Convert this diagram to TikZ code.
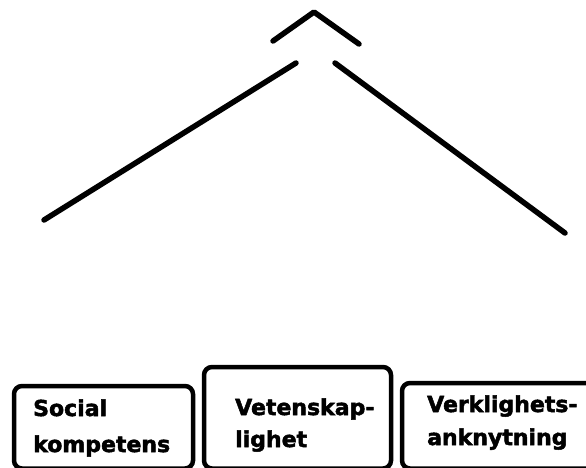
\documentclass[tikz,border=0pt]{standalone}
\usepackage{fontspec}
\setmainfont{DejaVu Sans}
\newfontfamily\heavy[FakeBold=2.2]{DejaVu Sans Bold}
\tikzset{
  stroke/.style={line width=5.5pt, line cap=round, line join=round},
  boxshape/.style={line width=4.5pt, rounded corners=8pt},
  lbl/.style={anchor=base west, inner sep=0pt, font=\heavy\fontsize{22}{26}\selectfont}
}
\begin{document}
\begin{tikzpicture}[x=1pt,y=-1pt]
\useasboundingbox (0,0) rectangle (586,467);
\fill[white] (0,0) rectangle (586,467);
% caret
\coordinate (cl) at (273,41);
\coordinate (ct) at (314,12);
\coordinate (cr) at (359,44);
\draw[stroke] (cl) -- (ct) -- (cr);
% roof lines
\coordinate (la) at (296,63);
\coordinate (lb) at (44,220);
\coordinate (ra) at (335,63);
\coordinate (rb) at (565,233);
\draw[stroke] (la) -- (lb);
\draw[stroke] (ra) -- (rb);
% boxes
\draw[boxshape] (14,386) rectangle (193,468.5);
\draw[boxshape] (204,367) rectangle (391,468.5);
\draw[boxshape] (402,383) rectangle (596,468.5);
% labels
\node[lbl] (t1a) at (33,416) {Social};
\node[lbl] (t1b) at (33,452) {kompetens};
\node[lbl] (t2a) at (235,415) {Vetenskap-};
\node[lbl] (t2b) at (235,447) {lighet};
\node[lbl] (t3a) at (427,412) {Verklighets-};
\node[lbl] (t3b) at (427,445) {anknytning};
\end{tikzpicture}
\end{document}
